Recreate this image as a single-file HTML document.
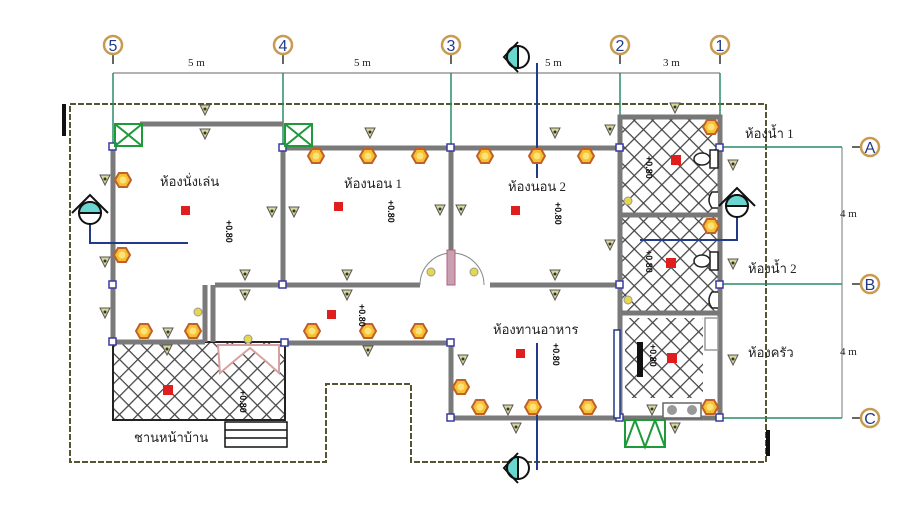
<!DOCTYPE html>
<html><head><meta charset="utf-8"><style>
body{margin:0;background:#fff;}
svg{display:block;font-family:"Liberation Serif","Noto Serif CJK SC",serif;}
</style></head><body>
<svg width="920" height="522" viewBox="0 0 920 522" xmlns="http://www.w3.org/2000/svg">
<defs>
<pattern id="h" width="13" height="13" patternUnits="userSpaceOnUse" patternTransform="rotate(45)">
<rect width="13" height="13" fill="#fff"/>
<line x1="0" y1="0" x2="0" y2="13" stroke="#444" stroke-width="2.5"/>
<line x1="0" y1="0" x2="13" y2="0" stroke="#444" stroke-width="2.5"/>
</pattern>
<g id="hex"><polygon points="-8,0 -4,-7 4,-7 8,0 4,7 -4,7" fill="#f6c030" stroke="#c0602a" stroke-width="2"/><circle r="3.5" fill="#fbe37a"/></g>
<g id="sw"><polygon points="-5,-5 5,-5 0,5" fill="#d8d89a" stroke="#555" stroke-width="1"/><circle cy="-1" r="1.5" fill="#333"/></g>
</defs>
<rect width="920" height="522" fill="#fff"/>

<path d="M70,104 H766 V462 H411 V384 H326 V462 H70 Z" fill="none" stroke="#553" stroke-width="2" stroke-dasharray="6,2"/>
<rect x="62" y="104" width="4" height="32" fill="#111"/>
<rect x="766" y="430" width="4" height="26" fill="#111"/>

<line x1="113" y1="73" x2="720" y2="73" stroke="#666" stroke-width="1"/>
<g stroke="#2a8a6a" stroke-width="1.5">
<line x1="113" y1="73" x2="113" y2="147"/><line x1="283" y1="73" x2="283" y2="147"/>
<line x1="451" y1="73" x2="451" y2="147"/><line x1="620" y1="73" x2="620" y2="117"/>
<line x1="720" y1="73" x2="720" y2="117"/>
<line x1="720" y1="147" x2="842" y2="147"/><line x1="720" y1="284" x2="842" y2="284"/><line x1="720" y1="418" x2="842" y2="418"/>
</g>
<line x1="842" y1="147" x2="842" y2="418" stroke="#777" stroke-width="1"/>
<g stroke="#333" stroke-width="1.5"><line x1="113" y1="54" x2="113" y2="64"/><line x1="283" y1="54" x2="283" y2="64"/><line x1="451" y1="54" x2="451" y2="64"/><line x1="620" y1="54" x2="620" y2="64"/><line x1="720" y1="54" x2="720" y2="64"/>
<line x1="852" y1="147" x2="860" y2="147"/><line x1="852" y1="284" x2="860" y2="284"/><line x1="852" y1="418" x2="860" y2="418"/></g>
<g fill="#fff" stroke="#c89a50" stroke-width="2.5">
<circle cx="113" cy="45" r="9"/><circle cx="283" cy="45" r="9"/><circle cx="451" cy="45" r="9"/><circle cx="620" cy="45" r="9"/><circle cx="720" cy="45" r="9"/>
<circle cx="870" cy="147" r="9"/><circle cx="870" cy="284" r="9"/><circle cx="870" cy="418" r="9"/></g>
<g fill="#223a8a" font-family="Liberation Sans,sans-serif" font-size="16" text-anchor="middle">
<text x="113" y="51">5</text><text x="283" y="51">4</text><text x="451" y="51">3</text><text x="620" y="51">2</text><text x="720" y="51">1</text>
<text x="870" y="153">A</text><text x="870" y="290">B</text><text x="870" y="424">C</text></g>
<g font-size="11" fill="#222"><text x="188" y="66">5 m</text><text x="354" y="66">5 m</text><text x="545" y="66">5 m</text><text x="663" y="66">3 m</text>
<text x="840" y="217">4 m</text><text x="840" y="355">4 m</text></g>

<rect x="113" y="342" width="172" height="78" fill="url(#h)" stroke="#222" stroke-width="2"/>
<rect x="620" y="117" width="100" height="196" fill="url(#h)" stroke="#777" stroke-width="5"/>
<line x1="620" y1="215" x2="720" y2="215" stroke="#777" stroke-width="5"/>
<rect x="625" y="318" width="78" height="80" fill="url(#h)"/>
<rect x="620" y="313" width="100" height="105" fill="none" stroke="#777" stroke-width="5"/>
<path d="M218,345 H279 V373 Q265,360 250,348 Q235,360 220,373 Z" fill="#fff" stroke="#d9a0a0" stroke-width="2"/>
<g fill="none" stroke="#111" stroke-width="1.5"><rect x="225" y="422" width="62" height="25"/><line x1="225" y1="430" x2="287" y2="430"/><line x1="225" y1="438" x2="287" y2="438"/></g>

<g stroke="#7a7a7a" stroke-width="5" fill="none">
<line x1="140" y1="124" x2="283" y2="124"/>
<line x1="283" y1="148" x2="620" y2="148"/>
<line x1="113" y1="147" x2="113" y2="342"/>
<line x1="283" y1="148" x2="283" y2="285"/>
<line x1="451" y1="148" x2="451" y2="250"/>
<line x1="215" y1="285" x2="420" y2="285"/>
<line x1="490" y1="285" x2="620" y2="285"/>
<line x1="205" y1="285" x2="205" y2="342"/><line x1="213" y1="285" x2="213" y2="342"/>
<line x1="113" y1="342" x2="205" y2="342"/>
<line x1="285" y1="343" x2="451" y2="343"/>
<line x1="451" y1="343" x2="451" y2="418"/>
<line x1="451" y1="418" x2="620" y2="418"/>
<line x1="620" y1="148" x2="620" y2="418"/>
<line x1="720" y1="117" x2="720" y2="418"/>
</g>
<g fill="#fff" stroke="#3a3aa0" stroke-width="1.5">
<rect x="109" y="143" width="7" height="7"/><rect x="279" y="144" width="7" height="7"/><rect x="447" y="144" width="7" height="7"/>
<rect x="616" y="144" width="7" height="7"/><rect x="716" y="144" width="7" height="7"/><rect x="109" y="281" width="7" height="7"/>
<rect x="279" y="281" width="7" height="7"/><rect x="616" y="281" width="7" height="7"/><rect x="716" y="281" width="7" height="7"/>
<rect x="447" y="414" width="7" height="7"/><rect x="616" y="414" width="7" height="7"/><rect x="716" y="414" width="7" height="7"/>
<rect x="109" y="338" width="7" height="7"/><rect x="281" y="339" width="7" height="7"/><rect x="447" y="339" width="7" height="7"/>
</g>
<path d="M420,285 A32,32 0 0 1 484,285" fill="none" stroke="#888" stroke-width="1"/>
<rect x="447" y="250" width="8" height="35" fill="#c9a0b0" stroke="#b06080"/>
<rect x="614" y="330" width="6" height="88" fill="#fff" stroke="#223a8a" stroke-width="1.5"/>

<g fill="none" stroke="#1e9a3a" stroke-width="2">
<rect x="115" y="124" width="27" height="22"/><path d="M115,124 L142,146 M115,146 L142,124"/>
<rect x="285" y="124" width="27" height="22"/><path d="M285,124 L312,146 M285,146 L312,124"/>
<rect x="625" y="420" width="40" height="27"/><path d="M625,447 L635,420 L645,447 L655,420 L665,447"/>
</g>

<g fill="#fff" stroke="#222" stroke-width="1.5">
<rect x="710" y="150" width="8" height="18"/><ellipse cx="702" cy="159" rx="8" ry="6"/>
<rect x="710" y="252" width="8" height="18"/><ellipse cx="702" cy="261" rx="8" ry="6"/>
<path d="M718,192 H712 Q706,200 712,208 H718"/>
<path d="M718,292 H712 Q706,300 712,308 H718"/>
<rect x="705" y="318" width="13" height="32" stroke="#999"/>
<rect x="663" y="403" width="38" height="15" stroke="#666"/>
</g>
<circle cx="672" cy="410" r="5" fill="#999"/><circle cx="692" cy="410" r="5" fill="#999"/>
<rect x="637" y="342" width="6" height="35" fill="#111"/>

<g stroke="#223a8a" stroke-width="2" fill="none">
<line x1="537" y1="63" x2="537" y2="178"/>
<polyline points="90,220 90,243 188,243"/>
<polyline points="737,215 737,240 640,240"/>
<line x1="537" y1="343" x2="537" y2="470"/>
</g>
<g stroke="#111" stroke-width="2">
<g transform="translate(518,57)"><circle r="11" fill="#fff"/><path d="M0,-11 A11,11 0 0 0 0,11 Z" fill="#6ad6d0"/><polyline points="0,-15 -14,0 0,15" fill="none"/></g>
<g transform="translate(90,213)"><circle r="11" fill="#fff"/><path d="M-11,0 A11,11 0 0 1 11,0 Z" fill="#6ad6d0"/><polyline points="-18,0 0,-18 18,0" fill="none"/></g>
<g transform="translate(737,206)"><circle r="11" fill="#fff"/><path d="M-11,0 A11,11 0 0 1 11,0 Z" fill="#6ad6d0"/><polyline points="-18,0 0,-18 18,0" fill="none"/></g>
<g transform="translate(518,468)"><circle r="11" fill="#fff"/><path d="M0,-11 A11,11 0 0 0 0,11 Z" fill="#6ad6d0"/><polyline points="0,-15 -14,0 0,15" fill="none"/></g>
</g>

<g>
<use href="#hex" x="316" y="156"/><use href="#hex" x="368" y="156"/><use href="#hex" x="420" y="156"/>
<use href="#hex" x="485" y="156"/><use href="#hex" x="537" y="156"/><use href="#hex" x="586" y="156"/>
<use href="#hex" x="123" y="180"/><use href="#hex" x="122" y="255"/>
<use href="#hex" x="144" y="331"/><use href="#hex" x="193" y="331"/><use href="#hex" x="312" y="331"/><use href="#hex" x="368" y="331"/><use href="#hex" x="419" y="331"/>
<use href="#hex" x="461" y="387"/><use href="#hex" x="480" y="407"/><use href="#hex" x="533" y="407"/><use href="#hex" x="588" y="407"/><use href="#hex" x="710" y="407"/>
<use href="#hex" x="711" y="127"/><use href="#hex" x="711" y="226"/>
</g>
<g>
<use href="#sw" x="205" y="110"/><use href="#sw" x="205" y="134"/><use href="#sw" x="370" y="133"/><use href="#sw" x="555" y="133"/><use href="#sw" x="675" y="108"/>
<use href="#sw" x="105" y="180"/><use href="#sw" x="105" y="262"/><use href="#sw" x="105" y="313"/>
<use href="#sw" x="272" y="212"/><use href="#sw" x="294" y="212"/><use href="#sw" x="440" y="210"/><use href="#sw" x="461" y="210"/>
<use href="#sw" x="245" y="275"/><use href="#sw" x="245" y="295"/><use href="#sw" x="347" y="275"/><use href="#sw" x="347" y="295"/><use href="#sw" x="555" y="275"/><use href="#sw" x="555" y="295"/>
<use href="#sw" x="168" y="333"/><use href="#sw" x="167" y="350"/><use href="#sw" x="368" y="351"/>
<use href="#sw" x="463" y="360"/><use href="#sw" x="508" y="410"/><use href="#sw" x="516" y="428"/><use href="#sw" x="652" y="410"/><use href="#sw" x="675" y="428"/>
<use href="#sw" x="610" y="130"/><use href="#sw" x="610" y="245"/><use href="#sw" x="733" y="165"/><use href="#sw" x="733" y="264"/><use href="#sw" x="733" y="360"/>
</g>
<g fill="#e5d84a" stroke="#999"><circle cx="198" cy="312" r="4"/><circle cx="248" cy="339" r="4"/><circle cx="431" cy="272" r="4"/><circle cx="474" cy="272" r="4"/><circle cx="628" cy="201" r="4"/><circle cx="628" cy="300" r="4"/></g>

<g fill="#e01e1e">
<rect x="181" y="206" width="9" height="9"/><rect x="334" y="202" width="9" height="9"/><rect x="511" y="206" width="9" height="9"/>
<rect x="671" y="155" width="10" height="10"/><rect x="666" y="258" width="10" height="10"/><rect x="667" y="353" width="10" height="10"/>
<rect x="516" y="349" width="9" height="9"/><rect x="163" y="385" width="10" height="10"/><rect x="327" y="310" width="9" height="9"/>
</g>

<g font-size="9" font-weight="bold" fill="#111" font-family="Liberation Sans,sans-serif">
<text transform="translate(226,220) rotate(90)">+0.80</text><text transform="translate(388,200) rotate(90)">+0.80</text>
<text transform="translate(555,202) rotate(90)">+0.80</text><text transform="translate(646,156) rotate(90)">+0.80</text>
<text transform="translate(646,250) rotate(90)">+0.80</text><text transform="translate(650,344) rotate(90)">+0.80</text>
<text transform="translate(553,343) rotate(90)">+0.80</text><text transform="translate(359,304) rotate(90)">+0.80</text>
<text transform="translate(240,390) rotate(90)">+0.80</text>
</g>

<g font-size="13" fill="#222" font-family="Liberation Serif,'Noto Serif CJK SC',serif">
<text x="160" y="186">ห้องนั่งเล่น</text>
<text x="344" y="188">ห้องนอน 1</text>
<text x="508" y="191">ห้องนอน 2</text>
<text x="745" y="138">ห้องน้ำ 1</text>
<text x="748" y="273">ห้องน้ำ 2</text>
<text x="748" y="357">ห้องครัว</text>
<text x="493" y="334">ห้องทานอาหาร</text>
<text x="134" y="442">ชานหน้าบ้าน</text>
</g>
</svg>
</body></html>
